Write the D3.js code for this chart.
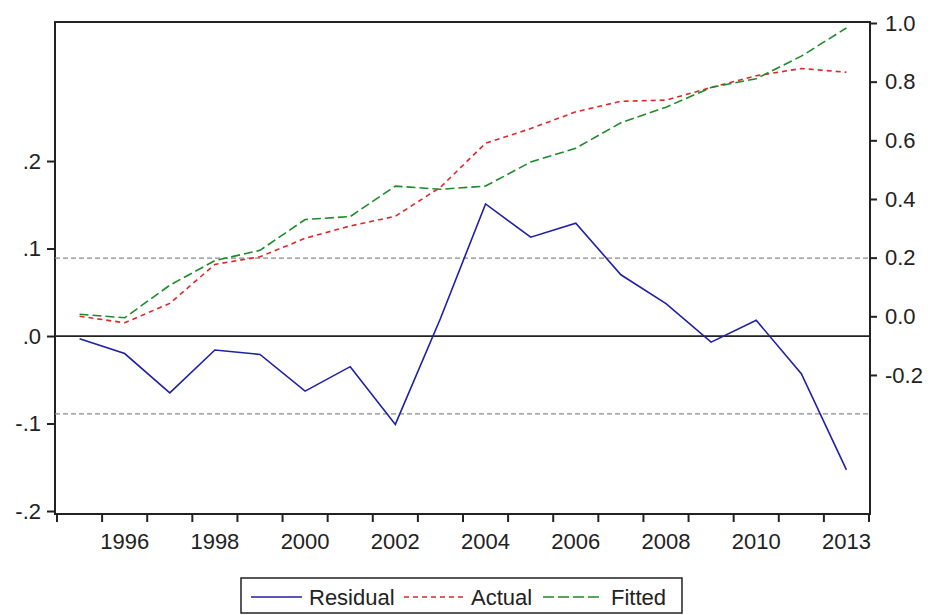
<!DOCTYPE html>
<html>
<head>
<meta charset="utf-8">
<script src="https://cdn.jsdelivr.net/npm/d3@7"></script>
<style>
  html, body { margin: 0; padding: 0; background: #fff; }
  svg { display: block; font-family: "Liberation Sans", Arial, sans-serif; }
</style>
</head>
<body>
<svg id="chart" width="930" height="615"></svg>
<script>
// Observation periods (annual)
const periods = ["1995","1996","1997","1998","1999","2000","2001","2002","2003",
                 "2004","2005","2006","2007","2008","2009","2010","2011","2013"];
// Period labels printed under the axis
const periodLabels = ["1996","1998","2000","2002","2004","2006","2008","2010","2013"];

// Regression output: actual, fitted (right axis) and residual (left axis)
const actual   = [0.000, -0.022, 0.044, 0.177, 0.203, 0.266, 0.308, 0.341, 0.440,
                  0.590, 0.640, 0.697, 0.733, 0.737, 0.780, 0.820, 0.845, 0.832];
const fitted   = [0.007, -0.005, 0.106, 0.190, 0.225, 0.330, 0.340, 0.444, 0.433,
                  0.444, 0.526, 0.573, 0.660, 0.713, 0.780, 0.810, 0.887, 0.983];
const residual = [-0.003, -0.020, -0.065, -0.016, -0.021, -0.063, -0.035, -0.101, 0.020,
                  0.151, 0.113, 0.129, 0.070, 0.037, -0.007, 0.018, -0.043, -0.153];

// Residual standard error band
const residualSE = 0.089;

// Axis ticks
const leftTicks  = [-0.2, -0.1, 0.0, 0.1, 0.2];
const rightTicks = [-0.2, 0.0, 0.2, 0.4, 0.6, 0.8, 1.0];

// Legend entries
const seriesNames = ["Residual", "Actual", "Fitted"];

const svg = d3.select("#chart");
const frame = { left: 55, right: 870, top: 22, bottom: 514 };
const ink = "#222";
const fontSize = 22;

const x = d3.scaleBand().domain(periods).range([57, 869]).paddingInner(0).paddingOuter(0);
const xc = d => x(d) + x.bandwidth() / 2;
const yL = d3.scaleLinear().domain([-0.2034, 0.3589]).range([frame.bottom, frame.top]);
const yR = d3.scaleLinear().domain([-0.674, 1.0034]).range([frame.bottom, frame.top]);

const styles = {
  Residual: { color: "#1f1fa8", dash: null },
  Actual:   { color: "#e0262a", dash: "5,4" },
  Fitted:   { color: "#1e8a2a", dash: "9,4" }
};

// Plot frame
svg.append("rect")
  .attr("x", frame.left).attr("y", frame.top)
  .attr("width", frame.right - frame.left).attr("height", frame.bottom - frame.top)
  .attr("fill", "#fff").attr("stroke", ink).attr("stroke-width", 2);

// ±1 S.E. reference lines
[residualSE, -residualSE].forEach(v => {
  svg.append("line")
    .attr("x1", frame.left).attr("x2", frame.right)
    .attr("y1", yL(v)).attr("y2", yL(v))
    .attr("stroke", "#8a8a8a").attr("stroke-width", 1.3)
    .attr("stroke-dasharray", "5,3");
});

// Zero line for residuals
svg.append("line")
  .attr("x1", frame.left).attr("x2", frame.right)
  .attr("y1", yL(0)).attr("y2", yL(0))
  .attr("stroke", ink).attr("stroke-width", 1.8);

// Series lines
const lineR = d3.line().x((d, i) => xc(periods[i])).y(d => yR(d));
const lineL = d3.line().x((d, i) => xc(periods[i])).y(d => yL(d));

function drawSeries(values, gen, name) {
  svg.append("path")
    .datum(values)
    .attr("d", gen)
    .attr("fill", "none")
    .attr("stroke", styles[name].color)
    .attr("stroke-width", 1.6)
    .attr("stroke-dasharray", styles[name].dash);
}
drawSeries(actual, lineR, "Actual");
drawSeries(fitted, lineR, "Fitted");
drawSeries(residual, lineL, "Residual");

// Number formats with a plain hyphen for negatives
const hyphen = s => s.replace("\u2212", "-");
const fmtL = v => hyphen(d3.format(".1f")(v)).replace("0.", ".");
const fmtR = v => hyphen(d3.format(".1f")(v));

// Left axis (residual)
const leftAxis = svg.append("g")
  .attr("transform", `translate(${frame.left},0)`)
  .call(d3.axisLeft(yL).tickValues(leftTicks).tickSize(8).tickPadding(6).tickFormat(fmtL));

// Right axis (actual / fitted)
const rightAxis = svg.append("g")
  .attr("transform", `translate(${frame.right},0)`)
  .call(d3.axisRight(yR).tickValues(rightTicks).tickSize(7).tickPadding(8).tickFormat(fmtR));

// Bottom axis: ticks at period boundaries, labels centred on periods
const boundaries = periods.map(p => x(p)).concat([x(periods[periods.length - 1]) + x.bandwidth()]);
const bottomScale = d3.scaleLinear().domain([0, 1]).range([0, 1]);
const bottomAxis = svg.append("g")
  .attr("transform", `translate(0,${frame.bottom})`)
  .call(d3.axisBottom(bottomScale).tickValues(boundaries).tickSize(8).tickFormat(""));
bottomAxis.selectAll(".tick").attr("transform", d => `translate(${d},0)`);

svg.append("g")
  .selectAll("text")
  .data(periodLabels)
  .join("text")
  .attr("x", d => xc(d))
  .attr("y", 549)
  .attr("text-anchor", "middle")
  .attr("font-size", fontSize)
  .attr("fill", ink)
  .text(d => d);

[leftAxis, rightAxis, bottomAxis].forEach(g => {
  g.select(".domain").remove();
  g.selectAll(".tick line").attr("stroke", ink).attr("stroke-width", 2);
  g.selectAll(".tick text").attr("font-size", fontSize).attr("fill", ink)
    .attr("font-family", "'Liberation Sans', Arial, sans-serif");
});

// Legend
const legend = svg.append("g");
legend.append("rect")
  .attr("x", 241).attr("y", 578).attr("width", 441).attr("height", 35)
  .attr("fill", "#fff").attr("stroke", ink).attr("stroke-width", 1.5);
const legendItems = [
  { name: seriesNames[0], x1: 251, x2: 302, tx: 309 },
  { name: seriesNames[1], x1: 404, x2: 465, tx: 471 },
  { name: seriesNames[2], x1: 543, x2: 600, tx: 611 }
];
legendItems.forEach(it => {
  legend.append("line")
    .attr("x1", it.x1).attr("x2", it.x2).attr("y1", 597).attr("y2", 597)
    .attr("stroke", styles[it.name].color).attr("stroke-width", 1.5)
    .attr("stroke-dasharray", it.name === "Fitted" ? "11,4" : styles[it.name].dash);
  legend.append("text")
    .attr("x", it.tx).attr("y", 605)
    .attr("font-size", fontSize).attr("fill", ink)
    .text(it.name);
});
</script>
</body>
</html>
